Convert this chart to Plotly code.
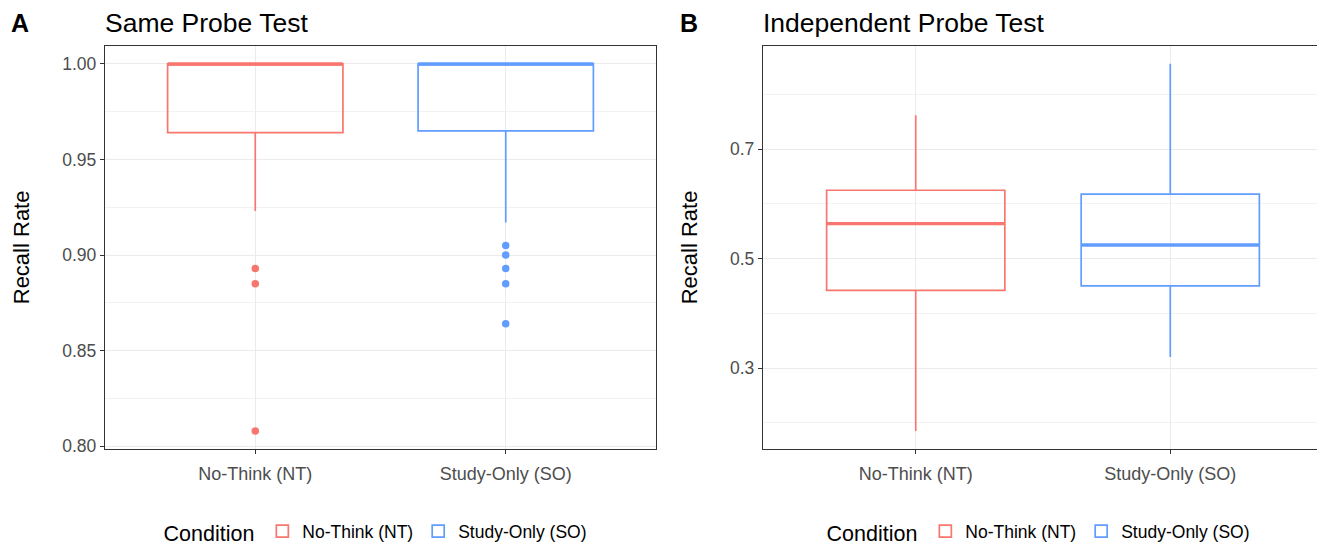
import plotly.graph_objects as go

# ---- data ----
conditions = ["No-Think (NT)", "Study-Only (SO)"]
colors = ["#F8766D", "#619CFF"]

# Panel A: Same Probe Test (box stats per condition)
same_q1 = [0.964, 0.965]
same_median = [1.0, 1.0]
same_q3 = [1.0, 1.0]
same_lower = [0.923, 0.917]
same_upper = [1.0, 1.0]
same_outliers_nt = [0.893, 0.885, 0.808]
same_outliers_so = [0.905, 0.900, 0.893, 0.885, 0.864]

# Panel B: Independent Probe Test
ind_q1 = [0.442, 0.450]
ind_median = [0.564, 0.525]
ind_q3 = [0.625, 0.618]
ind_lower = [0.185, 0.320]
ind_upper = [0.762, 0.856]
ind_outliers_nt = []
ind_outliers_so = []

W, H = 1325, 548
OFF = 8  # page body margin offset
FONT = "Liberation Sans, Arial, sans-serif"
BOXW = 0.7


def px(x):
    return (x - OFF) / W


def py(y):
    return 1 - (y - OFF) / H


fig = go.Figure()


def add_panel(fig, xa, ya, legend, q1, med, q3, lo, hi, outs):
    for i, name in enumerate(conditions):
        fig.add_trace(go.Box(
            x=[i], q1=[q1[i]], median=[med[i]], q3=[q3[i]],
            lowerfence=[lo[i]], upperfence=[hi[i]],
            name=name, width=BOXW, whiskerwidth=0, boxpoints=False,
            line=dict(color=colors[i], width=1.7),
            fillcolor="rgba(255,255,255,0)",
            xaxis=xa, yaxis=ya, legend=legend, showlegend=True,
        ))
        # thicker median line (ggplot style)
        fig.add_trace(go.Scatter(
            x=[i - BOXW / 2, i + BOXW / 2], y=[med[i], med[i]],
            mode="lines", line=dict(color=colors[i], width=3.4),
            xaxis=xa, yaxis=ya, showlegend=False, hoverinfo="skip",
        ))
        if outs[i]:
            fig.add_trace(go.Scatter(
                x=[i] * len(outs[i]), y=outs[i], mode="markers",
                marker=dict(color=colors[i], size=7.5),
                xaxis=xa, yaxis=ya, showlegend=False,
            ))


add_panel(fig, "x", "y", "legend", same_q1, same_median, same_q3, same_lower,
          same_upper, [same_outliers_nt, same_outliers_so])
add_panel(fig, "x2", "y2", "legend2", ind_q1, ind_median, ind_q3, ind_lower,
          ind_upper, [ind_outliers_nt, ind_outliers_so])


def yrange(vals):
    lo, hi = min(vals), max(vals)
    pad = 0.05 * (hi - lo)
    return [lo - pad, hi + pad]


rangeA = yrange(same_lower + same_upper + same_outliers_nt + same_outliers_so)
rangeB = yrange(ind_lower + ind_upper)

axis_common = dict(
    showline=True, mirror=True, linecolor="#333333", linewidth=1.4,
    ticks="outside", ticklen=4, tickcolor="#333333", tickwidth=1.2,
    gridcolor="#EBEBEB", gridwidth=1.3, zeroline=False,
    tickfont=dict(family=FONT, size=17.5, color="#4D4D4D"),
)

xa = dict(axis_common, range=[-0.6, 1.6], tickvals=[0, 1], ticktext=conditions,
          showgrid=True, ticklabelstandoff=4,
          tickfont=dict(family=FONT, size=18, color="#4D4D4D"))

ytitle = dict(text="Recall Rate", standoff=26,
              font=dict(family=FONT, size=22, color="black"))

legend_common = dict(
    orientation="h", xanchor="center", y=py(539), yanchor="middle",
    title=dict(text="Condition", side="left",
               font=dict(family=FONT, size=21.5, color="black")),
    font=dict(family=FONT, size=17.5, color="black"),
    itemwidth=30, bgcolor="rgba(0,0,0,0)",
)

TY = 23
fig.update_layout(
    width=W, height=H,
    margin=dict(l=0, r=0, t=0, b=0),
    paper_bgcolor="white", plot_bgcolor="white",
    font=dict(family=FONT, color="black"),
    xaxis=dict(xa, domain=[px(105), px(656)], anchor="y"),
    xaxis2=dict(xa, domain=[px(763), px(1323)], anchor="y2"),
    yaxis=dict(axis_common, domain=[py(455), py(46)], anchor="x",
               range=rangeA, tickvals=[0.80, 0.85, 0.90, 0.95, 1.00],
               tickformat=".2f",
               minor=dict(tickvals=[0.825, 0.875, 0.925, 0.975], showgrid=True,
                          gridcolor="#F2F2F2", gridwidth=0.7, ticks=""),
               title=ytitle),
    yaxis2=dict(axis_common, domain=[py(455), py(46)], anchor="x2",
                range=rangeB, tickvals=[0.3, 0.5, 0.7], tickformat=".1f",
                minor=dict(tickvals=[0.2, 0.4, 0.6, 0.8], showgrid=True,
                           gridcolor="#F2F2F2", gridwidth=0.7, ticks=""),
                title=ytitle),
    legend=dict(legend_common, x=px(377)),
    legend2=dict(legend_common, x=px(1040)),
    annotations=[
        dict(text="<b>A</b>", x=px(9), y=py(TY), xref="paper", yref="paper",
             xanchor="left", yanchor="middle", showarrow=False,
             font=dict(family=FONT, size=25, color="black")),
        dict(text="Same Probe Test", x=px(103), y=py(TY), xref="paper",
             yref="paper", xanchor="left", yanchor="middle", showarrow=False,
             font=dict(family=FONT, size=26.5, color="black")),
        dict(text="<b>B</b>", x=px(678), y=py(TY), xref="paper",
             yref="paper", xanchor="left", yanchor="middle", showarrow=False,
             font=dict(family=FONT, size=25, color="black")),
        dict(text="Independent Probe Test", x=px(761), y=py(TY),
             xref="paper", yref="paper", xanchor="left", yanchor="middle",
             showarrow=False, font=dict(family=FONT, size=26.5, color="black")),
    ],
)

fig.write_html("out.html")
